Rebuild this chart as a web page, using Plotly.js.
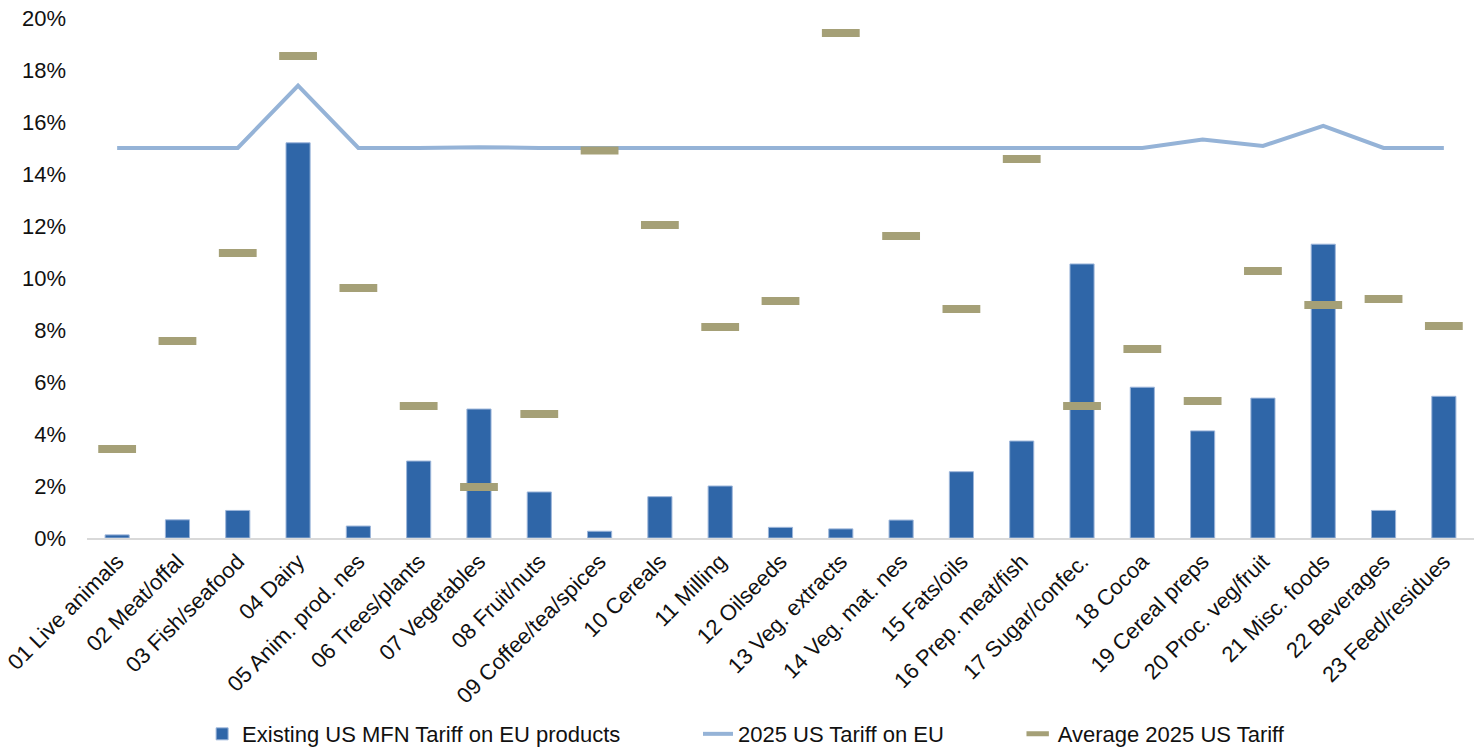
<!DOCTYPE html>
<html>
<head>
<meta charset="utf-8">
<script src="https://cdn.plot.ly/plotly-3.0.1.min.js"></script>
<style>html,body{margin:0;padding:0;background:#fff;}#chart{width:1477px;height:749px;}</style>
</head>
<body>
<div id="chart"></div>
<script>
const categories = ["01 Live animals","02 Meat/offal","03 Fish/seafood","04 Dairy","05 Anim. prod. nes","06 Trees/plants","07 Vegetables","08 Fruit/nuts","09 Coffee/tea/spices","10 Cereals","11 Milling","12 Oilseeds","13 Veg. extracts","14 Veg. mat. nes","15 Fats/oils","16 Prep. meat/fish","17 Sugar/confec.","18 Cocoa","19 Cereal preps","20 Proc. veg/fruit","21 Misc. foods","22 Beverages","23 Feed/residues"];
const existingMFN = [0.12,0.70,1.06,15.2,0.46,2.96,4.96,1.77,0.26,1.59,2.0,0.41,0.35,0.69,2.55,3.73,10.54,5.80,4.12,5.38,11.3,1.06,5.45];
const tariff2025 = [15,15,15,17.4,15,15,15.03,15,15,15,15,15,15,15,15,15,15,15,15.33,15.08,15.85,15,15];
const average2025 = [3.42,7.58,10.96,18.54,9.62,5.08,1.96,4.77,14.9,12.04,8.12,9.12,19.42,11.62,8.81,14.58,5.08,7.27,5.27,10.27,8.96,9.19,8.15];
const seriesNames = ["Existing US MFN Tariff on EU products","2025 US Tariff on EU","Average 2025 US Tariff"];

const FONT = "Liberation Sans, Arial, sans-serif";
const data = [
  {type:'bar', x:categories, y:existingMFN, name:seriesNames[0], legend:'legend',
   marker:{color:'#2F66A8', line:{color:'#9DB6DA', width:1}}, hoverinfo:'x+y'},
  {type:'scatter', mode:'lines', x:categories, y:tariff2025, name:seriesNames[1], legend:'legend2',
   line:{color:'#95B3D7', width:4}},
  {type:'scatter', mode:'markers', x:categories, y:average2025, name:seriesNames[2], legend:'legend3',
   marker:{symbol:'line-ew', size:27, color:'#A5A077', line:{color:'#A5A077', width:8}}}
];
const legendFont = {family:FONT, size:22, color:'#111'};
const layout = {
  width:1477, height:749,
  margin:{l:87, r:3, t:18, b:211, autoexpand:false},
  paper_bgcolor:'#fff', plot_bgcolor:'#fff',
  font:{family:FONT, size:22, color:'#111'},
  bargap:0.6,
  showlegend:true,
  xaxis:{type:'category', range:[-0.5, 22.5], autorange:false, tickangle:-45, showline:true, linecolor:'#D9D9D9', linewidth:2,
         ticks:'', showgrid:false, zeroline:false, automargin:false, tickfont:{family:FONT, size:22, color:'#111'}},
  yaxis:{range:[0,20], dtick:2, ticksuffix:'%', showgrid:false, zeroline:false, showline:false, automargin:false,
         ticks:'', ticklabelstandoff:20, tickfont:{family:FONT, size:22, color:'#111'}},
  legend:{orientation:'h', x:0.083, xanchor:'left', y:-0.377, yanchor:'middle', font:legendFont, bgcolor:'rgba(0,0,0,0)'},
  legend2:{orientation:'h', x:0.4405, xanchor:'left', y:-0.377, yanchor:'middle', font:legendFont, bgcolor:'rgba(0,0,0,0)'},
  legend3:{orientation:'h', x:0.671, xanchor:'left', y:-0.377, yanchor:'middle', font:legendFont, bgcolor:'rgba(0,0,0,0)'}
};
Plotly.newPlot('chart', data, layout, {displayModeBar:false, staticPlot:true});
</script>
</body>
</html>
